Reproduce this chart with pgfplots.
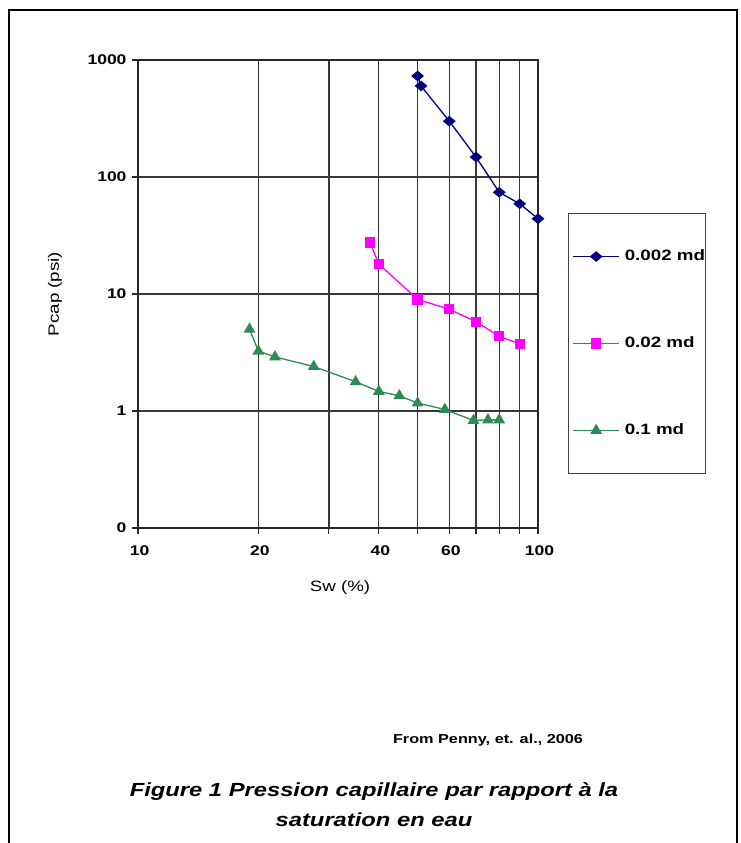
\documentclass[border=0pt]{standalone}
\usepackage{pgfplots}
\pgfplotsset{compat=1.18}
\usepackage{fontspec}
\setmainfont{Liberation Sans}[FakeStretch=1.25]
\definecolor{navyc}{RGB}{0,0,128}
\definecolor{magc}{RGB}{255,0,255}
\definecolor{sgreen}{RGB}{46,139,87}
\begin{document}
\begin{tikzpicture}[x=1pt,y=1pt]
\useasboundingbox (0,0) rectangle (741,843);
\draw[line width=2pt] (8.5,-5) -- (8.5,833) -- (736.5,833) -- (736.5,-5);
\begin{axis}[
 at={(138pt,315pt)}, anchor=south west,
 scale only axis, width=400pt, height=468pt,
 xmode=log, ymode=log, xmin=10, xmax=100, ymin=0.1, ymax=1000,
 xtick={10,20,30,40,50,60,70,80,90,100},
 xticklabels={10,20,,40,,60,,,,100},
 ytick={0.1,1,10,100,1000},
 yticklabels={0,1,10,100,1000},
 xminorticks=false, yminorticks=false,
 xtick pos=bottom, ytick pos=left,
 grid=major,
 major grid style={line width=1.3pt, color=black!78},
 axis line style={line width=1.3pt, black!85},
 tick align=outside, major tick length=6pt,
 tick style={line width=1.2pt, black!85},
 ticklabel style={font=\fontsize{14}{14}\selectfont\bfseries},
 xticklabel style={yshift=-8pt, xshift=1.5pt},
 yticklabel style={xshift=-2pt},
 xlabel={Sw (\%)}, ylabel={Pcap (psi)},
 label style={font=\fontsize{15}{15}\selectfont},
 xlabel style={at={(axis description cs:0.505,-0.128)}, anchor=center},
 ylabel style={at={(axis description cs:-0.2075,0.5)}, anchor=center},
 legend style={at={(axis description cs:1.075,0.673)}, anchor=north west,
   draw=black!75, line width=1pt, fill=white,
   font=\fontsize{15}{15}\selectfont\bfseries,
   inner xsep=4pt, inner ysep=34pt, row sep=69pt, column sep=3pt,
   nodes={inner sep=2pt, text height=11pt, text depth=3pt}},
 legend cell align=left,
 legend image code/.code={\draw[mark repeat=2,mark phase=2,#1] plot coordinates {(0pt,0pt) (23pt,0pt) (46pt,0pt)};},
]
\addplot[navyc, line width=1.3pt, mark=diamond*, mark size=4.5pt, mark options={fill=navyc, xscale=1.6}] coordinates {
 (50,730) (51,600) (60,300) (70,148) (80,74) (90,59) (100,44)};
\addlegendentry{0.002 md\hspace*{-6pt}}
\addplot[magc, line width=1.3pt, mark=square*, mark size=4.5pt, mark options={fill=magc}] coordinates {
 (38,27.5) (40,18) (50,9) (60,7.4) (70,5.8) (80,4.35) (90,3.75)};
\addlegendentry{0.02 md}
\addplot[sgreen, line width=1.3pt, mark=triangle*, mark size=5.5pt, mark options={fill=sgreen}] coordinates {
 (19,5) (20,3.25) (22,2.9) (27.5,2.4) (35,1.78) (40,1.47) (45,1.35) (50,1.17) (58.5,1.03) (69,0.83) (75,0.84) (80,0.84)};
\addlegendentry{0.1 md}
\end{axis}
\node[font=\fontsize{13}{13}\selectfont\bfseries] at (488,103) {From Penny, et. al., 2006};
\node[align=center, font=\fontsize{19}{30}\selectfont\bfseries\itshape] at (374,38) {Figure 1 Pression capillaire par rapport à la\\saturation en eau};
\end{tikzpicture}
\end{document}
